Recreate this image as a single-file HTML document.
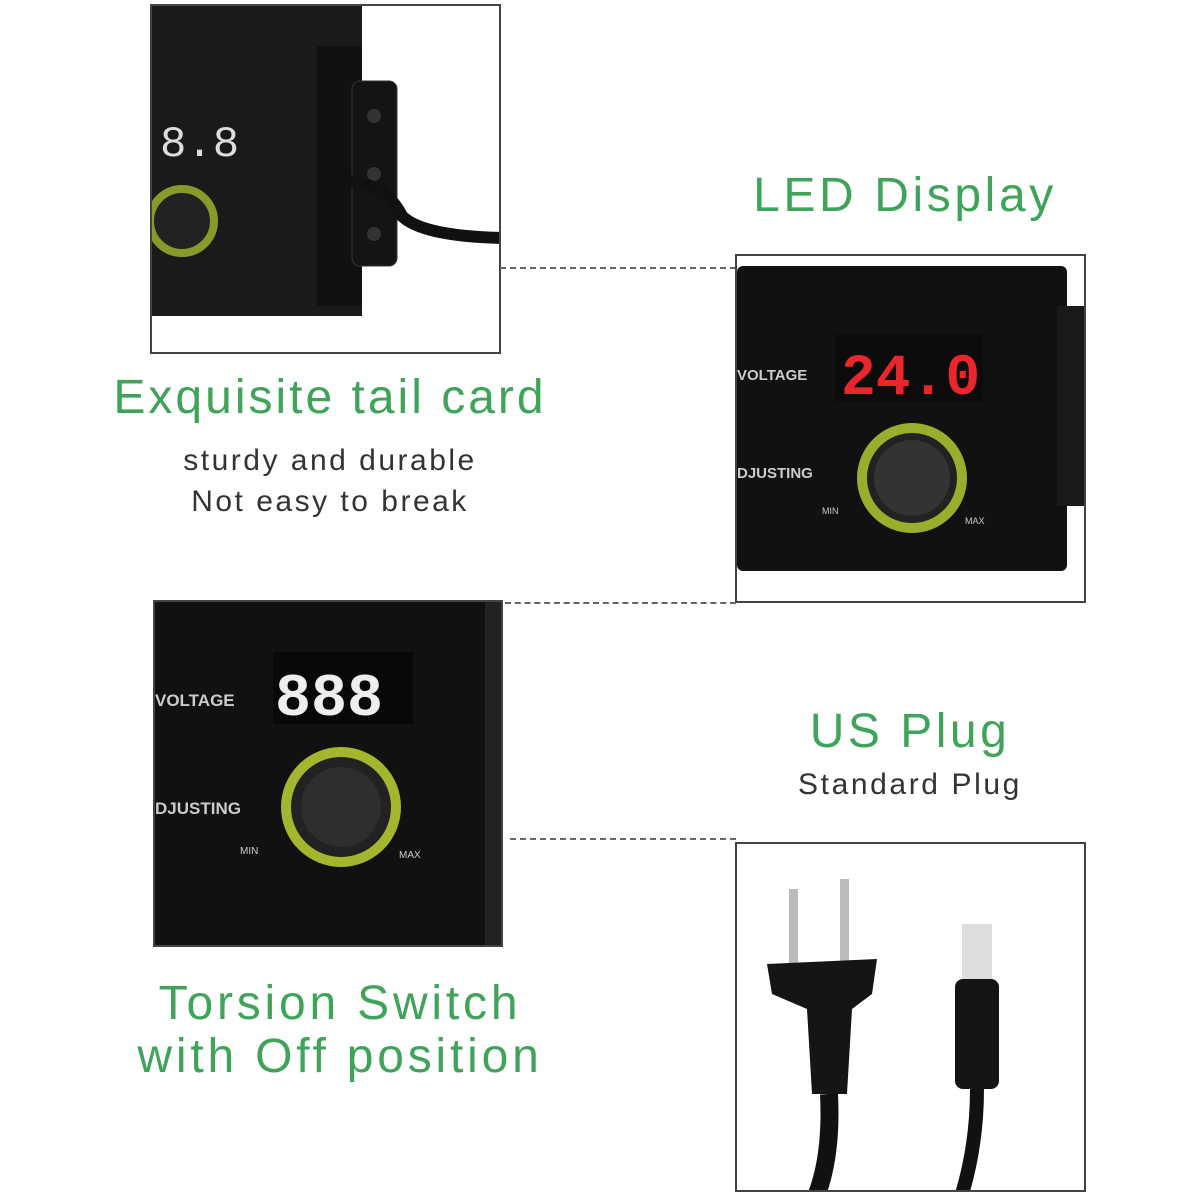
<!DOCTYPE html>
<html><head><meta charset="utf-8"><style>
body{margin:0;width:1200px;height:1200px;background:#fff;position:relative;overflow:hidden;font-family:"Liberation Sans",sans-serif}
.g{position:absolute;color:#3fa45a;font-size:48px;text-align:center;white-space:nowrap;line-height:1;letter-spacing:3.5px}
.s{position:absolute;color:#333;font-size:30px;text-align:center;white-space:nowrap;line-height:1;letter-spacing:2.5px}
.box{position:absolute;border:2px solid #444;box-sizing:border-box;overflow:hidden;background:#fff}
.dash{position:absolute;border-top:2px dashed #666;height:0}
</style></head><body>

<div class="box" style="left:150px;top:4px;width:351px;height:350px">
<svg width="351" height="350">
<rect x="0" y="0" width="210" height="310" fill="#1a1a1a"/>
<rect x="165" y="40" width="45" height="260" fill="#111"/>
<rect x="200" y="75" width="45" height="185" rx="8" fill="#141414" stroke="#333"/>
<circle cx="222" cy="110" r="7" fill="#333"/><circle cx="222" cy="168" r="7" fill="#333"/><circle cx="222" cy="228" r="7" fill="#333"/>
<path d="M175 175 Q230 170 250 210 Q270 230 350 232" stroke="#111" stroke-width="12" fill="none"/>
<text x="8" y="150" font-size="44" fill="#ddd" font-family="Liberation Mono">8.8</text>
<circle cx="30" cy="215" r="32" fill="#222" stroke="#8a9a2a" stroke-width="8"/>
</svg></div>

<div class="g" style="left:80px;top:374px;width:500px;letter-spacing:3px">Exquisite tail card</div>
<div class="s" style="left:130px;top:446px;width:400px">sturdy and durable</div>
<div class="s" style="left:130px;top:487px;width:400px">Not easy to break</div>

<div class="g" style="left:705px;top:172px;width:400px;letter-spacing:3.6px">LED Display</div>
<div class="dash" style="left:500px;top:267px;width:236px"></div>

<div class="box" style="left:735px;top:254px;width:351px;height:349px">
<svg width="351" height="349">
<rect x="0" y="0" width="351" height="349" fill="#fff"/>
<rect x="0" y="10" width="330" height="305" rx="6" fill="#111"/>
<rect x="320" y="50" width="31" height="200" fill="#1a1a1a"/>
<text x="0" y="124" font-size="15" font-weight="bold" fill="#ccc">VOLTAGE</text>
<text x="0" y="222" font-size="15" font-weight="bold" fill="#ccc">DJUSTING</text>
<rect x="98" y="78" width="148" height="68" fill="#0c0c0c"/>
<text x="104" y="138" font-size="58" fill="#e8262b" font-family="Liberation Mono" font-weight="bold">24.0</text>
<circle cx="175" cy="222" r="50" fill="#222" stroke="#9aae2e" stroke-width="10"/>
<circle cx="175" cy="222" r="38" fill="#333"/>
<text x="85" y="258" font-size="9" fill="#ccc">MIN</text><text x="228" y="268" font-size="9" fill="#ccc">MAX</text>
</svg></div>

<div class="dash" style="left:505px;top:602px;width:231px"></div>

<div class="box" style="left:153px;top:600px;width:350px;height:347px">
<svg width="350" height="347">
<rect x="0" y="0" width="350" height="347" fill="#111"/>
<rect x="330" y="0" width="20" height="347" fill="#222"/>
<text x="0" y="104" font-size="17" font-weight="bold" fill="#ccc">VOLTAGE</text>
<text x="0" y="212" font-size="17" font-weight="bold" fill="#ccc">DJUSTING</text>
<rect x="118" y="50" width="140" height="72" fill="#080808"/>
<text x="120" y="113" font-size="60" fill="#eee" font-family="Liberation Mono" font-weight="bold">888</text>
<circle cx="186" cy="205" r="55" fill="#222" stroke="#a4b52e" stroke-width="10"/>
<circle cx="186" cy="205" r="40" fill="#2e2e2e"/>
<text x="85" y="252" font-size="10" fill="#ccc">MIN</text><text x="244" y="256" font-size="10" fill="#ccc">MAX</text>
</svg></div>

<div class="g" style="left:710px;top:708px;width:400px">US Plug</div>
<div class="s" style="left:710px;top:770px;width:400px;letter-spacing:2.6px">Standard Plug</div>
<div class="dash" style="left:510px;top:838px;width:226px"></div>

<div class="box" style="left:735px;top:842px;width:351px;height:350px">
<svg width="351" height="350">
<rect x="52" y="45" width="9" height="75" fill="#bbb"/><rect x="103" y="35" width="9" height="85" fill="#bbb"/>
<path d="M30 120 L140 115 L135 150 L115 165 L110 250 L75 250 L70 165 L35 150 Z" fill="#151515"/>
<path d="M92 250 Q95 310 80 350" stroke="#111" stroke-width="18" fill="none"/>
<rect x="225" y="80" width="30" height="60" fill="#ddd"/>
<rect x="218" y="135" width="44" height="110" rx="8" fill="#151515"/>
<path d="M240 245 Q240 300 225 350" stroke="#111" stroke-width="14" fill="none"/>
</svg></div>

<div class="g" style="left:80px;top:980px;width:520px;letter-spacing:3.8px">Torsion Switch</div>
<div class="g" style="left:80px;top:1033px;width:520px;letter-spacing:3.8px">with Off position</div>
</body></html>
